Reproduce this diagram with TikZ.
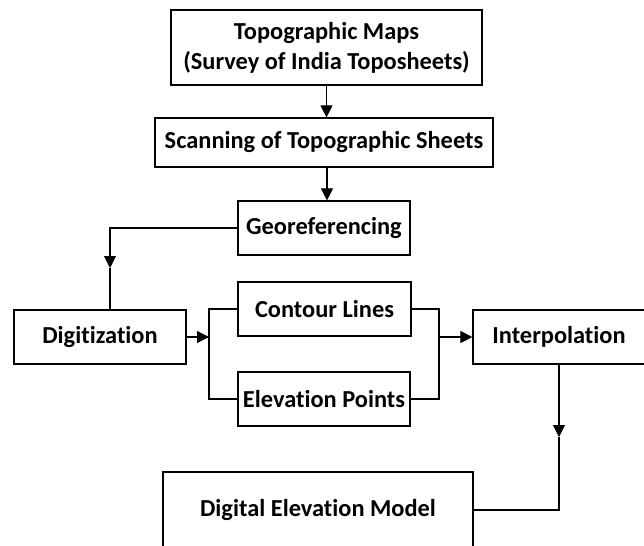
\documentclass[tikz,border=0pt]{standalone}
\usepackage{fontspec}
\setmainfont{Carlito}[Ligatures={NoCommon}]
\usetikzlibrary{arrows.meta}
\begin{document}
\begin{tikzpicture}[x=0.75pt,y=-0.75pt,
  box/.style={draw, line width=0.9pt, rectangle, inner sep=0pt,
    font=\fontsize{18.3}{22.5}\selectfont\bfseries, align=center},
  conn/.style={line width=0.8pt},
  tip/.style={conn,-{Triangle[length=9pt,width=9pt]}}]
\useasboundingbox (0,0) rectangle (644,546);
\clip (0,0) rectangle (644,546);

% process boxes
\node[box, minimum width={0.75pt*311}, minimum height={0.75pt*75}] (topo) at (326.5,47.5)
  {Topographic Maps\\(Survey of India Toposheets)};
\node[box, minimum width={0.75pt*338}, minimum height={0.75pt*49}] (scan) at (324,142.5)
  {Scanning of Topographic Sheets};
\node[box, minimum width={0.75pt*172}, minimum height={0.75pt*54}] (geo) at (324,228)
  {Georeferencing};
\node[box, minimum width={0.75pt*172}, minimum height={0.75pt*54}] (dig) at (100,337)
  {Digitization};
\node[box, minimum width={0.75pt*173}, minimum height={0.75pt*54}] (cont) at (324.5,309)
  {Contour Lines};
\node[box, minimum width={0.75pt*172}, minimum height={0.75pt*54}] (elev) at (324,399)
  {Elevation Points};
\node[box, minimum width={0.75pt*172}, minimum height={0.75pt*54}] (interp) at (559,337)
  {Interpolation};
\node[box, minimum width={0.75pt*310}, minimum height={0.75pt*76}] (dem) at (318,510)
  {Digital Elevation Model};

% junction points
\coordinate (gd) at (110,268);
\coordinate (bl) at (209,337);
\coordinate (br) at (439,337);
\coordinate (id) at (559,437);

% connectors
\draw[tip] (topo.south) -- (topo.south |- scan.north);
\draw[tip] ([xshift=2.25pt]scan.south) -- ([xshift=2.25pt]scan.south |- geo.north);
\draw[tip] (geo.west) -| (gd);
\draw[conn] (gd) -- (gd |- dig.north);
\draw[conn] (cont.west) -| (bl) |- (elev.west);
\draw[tip] (dig.east) -- (bl);
\draw[conn] (cont.east) -| (br) |- (elev.east);
\draw[tip] (br) -- (interp.west);
\draw[tip] (interp.south) -- (id);
\draw[conn] (id) |- (dem.east);
\end{tikzpicture}
\end{document}
